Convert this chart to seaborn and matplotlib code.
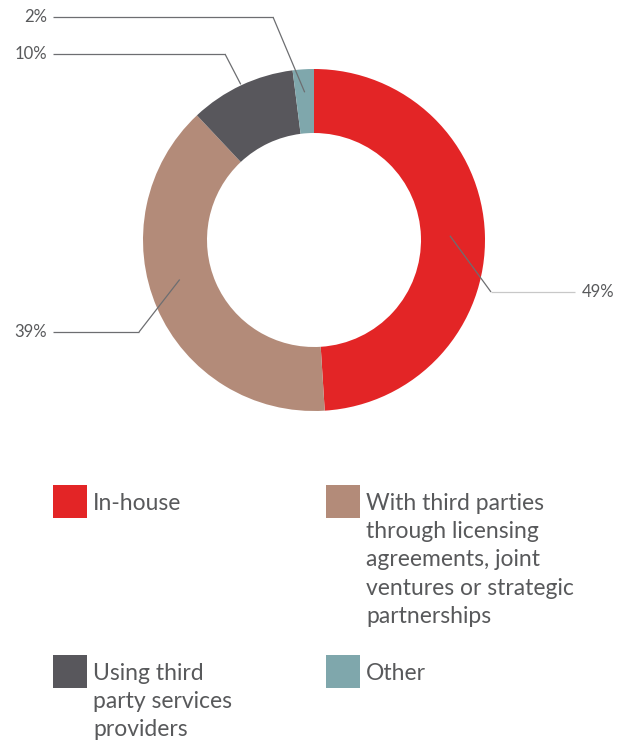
import numpy as np
import matplotlib
matplotlib.use("Agg")
import matplotlib.pyplot as plt
import seaborn as sns

# data
labels = ["In-house",
          "With third parties\nthrough licensing\nagreements, joint\nventures or strategic\npartnerships",
          "Using third\nparty services\nproviders",
          "Other"]
shares = [49, 39, 10, 2]
pct_labels = ["49%", "39%", "10%", "2%"]
colors = ["#E32526", "#B38B79", "#58575C", "#7FA7AC"]

sns.set_theme(style="white")
plt.rcParams['font.family'] = ['Lato', 'DejaVu Sans']
TXT = "#58595B"

W, H = 627, 745
fig = plt.figure(figsize=(W / 100, H / 100), dpi=100)
ax = fig.add_axes([0, 0, 1, 1])

cx, cy, R = 314, H - 240, 171
wedges, _ = ax.pie(shares, colors=colors, startangle=90, counterclock=False,
                   center=(cx, cy), radius=R, frame=True,
                   wedgeprops=dict(width=R - 107, linewidth=0))
ax.set_xlim(0, W)
ax.set_ylim(0, H)
ax.axis("off")

# leader lines: anchor radius, angle shift, elbow (x, y from top), line end x, text x, align, colour of flat part
leaders = [
    (136, 0, (491, 292), 575, 582, "left", "#C8C8C8"),
    (140, -7, (139, 332), 53, 47, "right", "#6D6E71"),
    (172, 0, (225, 54), 53, 47, "right", "#6D6E71"),
    (148, 0, (273, 17), 53, 47, "right", "#6D6E71"),
]
for w, lab, (ra, da, (ex, ey), lx, tx, ha, hc) in zip(wedges, pct_labels, leaders):
    ang = np.deg2rad((w.theta1 + w.theta2) / 2 + da)
    px, py = cx + ra * np.cos(ang), cy + ra * np.sin(ang)
    ey = H - ey
    ax.plot([px, ex], [py, ey], color="#6D6E71", lw=0.9, solid_capstyle="butt")
    ax.plot([ex, lx], [ey, ey], color=hc, lw=0.9, solid_capstyle="butt")
    ax.text(tx, ey, lab, ha=ha, va="center", fontsize=12, color=TXT)

# legend
legend_pos = [(53, 485), (326, 485), (53, 655), (326, 655)]
for lab, c, (sx, sy) in zip(labels, colors, legend_pos):
    ax.add_patch(plt.Rectangle((sx, H - sy - 33), 34, 33, color=c, lw=0))
    ax.text(sx + 40, H - sy - 8, lab, ha="left", va="top", fontsize=16.5,
            color=TXT, linespacing=1.425)

fig.savefig("out.png", dpi=100)
